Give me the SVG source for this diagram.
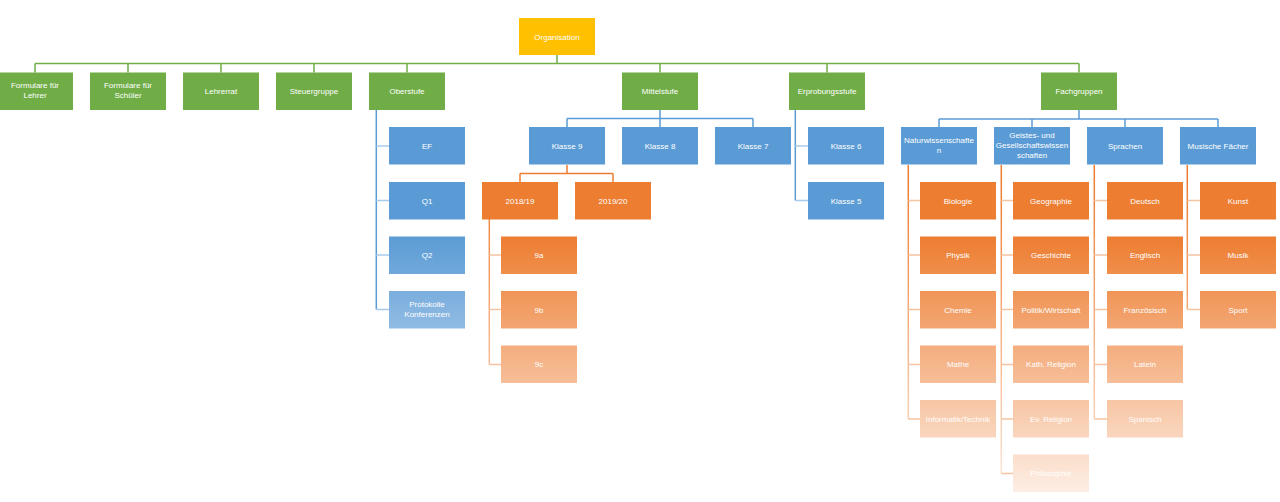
<svg xmlns="http://www.w3.org/2000/svg" width="1280" height="502" viewBox="0 0 1280 502">
<defs>
<linearGradient id="gb" gradientUnits="userSpaceOnUse" x1="0" y1="0" x2="0" y2="502">
<stop offset="0.47" stop-color="#5B9BD5"/><stop offset="0.98" stop-color="#EEF4FB"/>
</linearGradient>
<linearGradient id="go" gradientUnits="userSpaceOnUse" x1="0" y1="0" x2="0" y2="502">
<stop offset="0.47" stop-color="#ED7D31"/><stop offset="0.98" stop-color="#FDEEE4"/>
</linearGradient>
<linearGradient id="gol" gradientUnits="userSpaceOnUse" x1="0" y1="0" x2="0" y2="502">
<stop offset="0.36" stop-color="#ED7D31"/><stop offset="0.98" stop-color="#FCE9DC"/>
</linearGradient>
</defs>
<style>
rect{stroke:none}
.y{fill:#FFC000}.g{fill:#70AD47}.b{fill:url(#gb)}.o{fill:url(#go)}
text{font-family:"Liberation Sans",Arial,sans-serif;font-size:8px;fill:#FFFFFF;text-anchor:middle}
.lg{stroke:#70AD47;stroke-width:1.5;fill:none}
.lb{stroke:#5B9BD5;stroke-width:1.5;fill:none}
.lo{stroke:#ED7D31;stroke-width:1.5;fill:none}
.vb{stroke:url(#gb);stroke-width:1.5;fill:none}
.vo{stroke:url(#gol);stroke-width:1.5;fill:none}
.sb{stroke:#A9CBEB;stroke-width:1.5;fill:none}
.so{stroke:#F6C4A1;stroke-width:1.5;fill:none}
</style>
<g id="connectors">
<path class="lg" d="M557 55V63.5M35 63.5H1079M35 63.5V72.5M128 63.5V72.5M221 63.5V72.5M314 63.5V72.5M407 63.5V72.5M660 63.5V72.5M827 63.5V72.5M1079 63.5V72.5"/>
<path class="lb" d="M376.3 110V309.5"/>
<path class="sb" d="M376.3 146H389M376.3 200.5H389M376.3 255H389M376.3 309.5H389"/>
<path class="lb" d="M660 110V118.5M567 118.5H753M567 118.5V127M660 118.5V127M753 118.5V127"/>
<path class="lb" d="M795.3 110V200.5"/>
<path class="sb" d="M795.3 146H808M795.3 200.5H808"/>
<path class="lb" d="M1079 110V119M939 119H1218M939 119V127M1032 119V127M1125 119V127M1218 119V127"/>
<path class="lo" d="M567 165V173.5M520 173.5H613M520 173.5V182M613 173.5V182"/>
<path class="vo" d="M489.3 219V364.5"/>
<path class="so" d="M489.3 255H501M489.3 309.5H501M489.3 364.5H501"/>
<path class="vo" d="M908.3 165V419"/>
<path class="so" d="M908.3 200.5H920M908.3 255H920M908.3 309.5H920M908.3 364.5H920M908.3 419H920"/>
<path class="vo" d="M1001.3 165V473.5"/>
<path class="so" d="M1001.3 200.5H1013M1001.3 255H1013M1001.3 309.5H1013M1001.3 364.5H1013M1001.3 419H1013M1001.3 473.5H1013"/>
<path class="vo" d="M1094.3 165V419"/>
<path class="so" d="M1094.3 200.5H1107M1094.3 255H1107M1094.3 309.5H1107M1094.3 364.5H1107M1094.3 419H1107"/>
<path class="vo" d="M1187.3 165V309.5"/>
<path class="so" d="M1187.3 200.5H1200M1187.3 255H1200M1187.3 309.5H1200"/>
</g>
<g id="organisation"><rect class="y" x="519" y="18" width="76" height="37"/><text x="557" y="39.5">Organisation</text></g>
<g id="formulare-lehrer"><rect class="g" x="-3" y="72.5" width="76" height="37.5"/><text x="35" y="88">Formulare für</text><text x="35" y="98">Lehrer</text></g>
<g id="formulare-schueler"><rect class="g" x="90" y="72.5" width="76" height="37.5"/><text x="128" y="88">Formulare für</text><text x="128" y="98">Schüler</text></g>
<g id="lehrerrat"><rect class="g" x="183" y="72.5" width="76" height="37.5"/><text x="221" y="94">Lehrerrat</text></g>
<g id="steuergruppe"><rect class="g" x="276" y="72.5" width="76" height="37.5"/><text x="314" y="94">Steuergruppe</text></g>
<g id="oberstufe"><rect class="g" x="369" y="72.5" width="76" height="37.5"/><text x="407" y="94">Oberstufe</text></g>
<g id="mittelstufe"><rect class="g" x="622" y="72.5" width="76" height="37.5"/><text x="660" y="94">Mittelstufe</text></g>
<g id="erprobungsstufe"><rect class="g" x="789" y="72.5" width="76" height="37.5"/><text x="827" y="94">Erprobungsstufe</text></g>
<g id="fachgruppen"><rect class="g" x="1041" y="72.5" width="76" height="37.5"/><text x="1079" y="94">Fachgruppen</text></g>
<g id="ef"><rect class="b" x="389" y="127" width="76" height="37.5"/><text x="427" y="148.5">EF</text></g>
<g id="q1"><rect class="b" x="389" y="182" width="76" height="37.5"/><text x="427" y="203.5">Q1</text></g>
<g id="q2"><rect class="b" x="389" y="236.5" width="76" height="37.5"/><text x="427" y="258">Q2</text></g>
<g id="protokolle"><rect class="b" x="389" y="291" width="76" height="37.5"/><text x="427" y="306.5">Protokolle</text><text x="427" y="316.5">Konferenzen</text></g>
<g id="klasse9"><rect class="b" x="529" y="127" width="76" height="37.5"/><text x="567" y="148.5">Klasse 9</text></g>
<g id="klasse8"><rect class="b" x="622" y="127" width="76" height="37.5"/><text x="660" y="148.5">Klasse 8</text></g>
<g id="klasse7"><rect class="b" x="715" y="127" width="76" height="37.5"/><text x="753" y="148.5">Klasse 7</text></g>
<g id="klasse6"><rect class="b" x="808" y="127" width="76" height="37.5"/><text x="846" y="148.5">Klasse 6</text></g>
<g id="klasse5"><rect class="b" x="808" y="182" width="76" height="37.5"/><text x="846" y="203.5">Klasse 5</text></g>
<g id="naturwissenschaften"><rect class="b" x="901" y="127" width="76" height="37.5"/><text x="939" y="143">Naturwissenschafte</text><text x="939" y="153">n</text></g>
<g id="geistes"><rect class="b" x="994" y="127" width="76" height="37.5"/><text x="1032" y="138">Geistes- und</text><text x="1032" y="148">Gesellschaftswissen</text><text x="1032" y="158">schaften</text></g>
<g id="sprachen"><rect class="b" x="1087" y="127" width="76" height="37.5"/><text x="1125" y="148.5">Sprachen</text></g>
<g id="musische"><rect class="b" x="1180" y="127" width="76" height="37.5"/><text x="1218" y="148.5">Musische Fächer</text></g>
<g id="y2018"><rect class="o" x="482" y="182" width="76" height="37.5"/><text x="520" y="203.5">2018/19</text></g>
<g id="y2019"><rect class="o" x="575" y="182" width="76" height="37.5"/><text x="613" y="203.5">2019/20</text></g>
<g id="k9a"><rect class="o" x="501" y="236.5" width="76" height="37.5"/><text x="539" y="258">9a</text></g>
<g id="k9b"><rect class="o" x="501" y="291" width="76" height="37.5"/><text x="539" y="312.5">9b</text></g>
<g id="k9c"><rect class="o" x="501" y="345.5" width="76" height="37.5"/><text x="539" y="367">9c</text></g>
<g id="biologie"><rect class="o" x="920" y="182" width="76" height="37.5"/><text x="958" y="203.5">Biologie</text></g>
<g id="physik"><rect class="o" x="920" y="236.5" width="76" height="37.5"/><text x="958" y="258">Physik</text></g>
<g id="chemie"><rect class="o" x="920" y="291" width="76" height="37.5"/><text x="958" y="312.5">Chemie</text></g>
<g id="mathe"><rect class="o" x="920" y="345.5" width="76" height="37.5"/><text x="958" y="367">Mathe</text></g>
<g id="informatik"><rect class="o" x="920" y="400" width="76" height="37.5"/><text x="958" y="421.5">Informatik/Technik</text></g>
<g id="geographie"><rect class="o" x="1013" y="182" width="76" height="37.5"/><text x="1051" y="203.5">Geographie</text></g>
<g id="geschichte"><rect class="o" x="1013" y="236.5" width="76" height="37.5"/><text x="1051" y="258">Geschichte</text></g>
<g id="politik"><rect class="o" x="1013" y="291" width="76" height="37.5"/><text x="1051" y="312.5">Politik/Wirtschaft</text></g>
<g id="kath"><rect class="o" x="1013" y="345.5" width="76" height="37.5"/><text x="1051" y="367">Kath. Religion</text></g>
<g id="ev"><rect class="o" x="1013" y="400" width="76" height="37.5"/><text x="1051" y="421.5">Ev. Religion</text></g>
<g id="philosophie"><rect class="o" x="1013" y="454.5" width="76" height="37.5"/><text x="1051" y="476">Philosophie</text></g>
<g id="deutsch"><rect class="o" x="1107" y="182" width="76" height="37.5"/><text x="1145" y="203.5">Deutsch</text></g>
<g id="englisch"><rect class="o" x="1107" y="236.5" width="76" height="37.5"/><text x="1145" y="258">Englisch</text></g>
<g id="franzoesisch"><rect class="o" x="1107" y="291" width="76" height="37.5"/><text x="1145" y="312.5">Französisch</text></g>
<g id="latein"><rect class="o" x="1107" y="345.5" width="76" height="37.5"/><text x="1145" y="367">Latein</text></g>
<g id="spanisch"><rect class="o" x="1107" y="400" width="76" height="37.5"/><text x="1145" y="421.5">Spanisch</text></g>
<g id="kunst"><rect class="o" x="1200" y="182" width="76" height="37.5"/><text x="1238" y="203.5">Kunst</text></g>
<g id="musik"><rect class="o" x="1200" y="236.5" width="76" height="37.5"/><text x="1238" y="258">Musik</text></g>
<g id="sport"><rect class="o" x="1200" y="291" width="76" height="37.5"/><text x="1238" y="312.5">Sport</text></g>
</svg>
